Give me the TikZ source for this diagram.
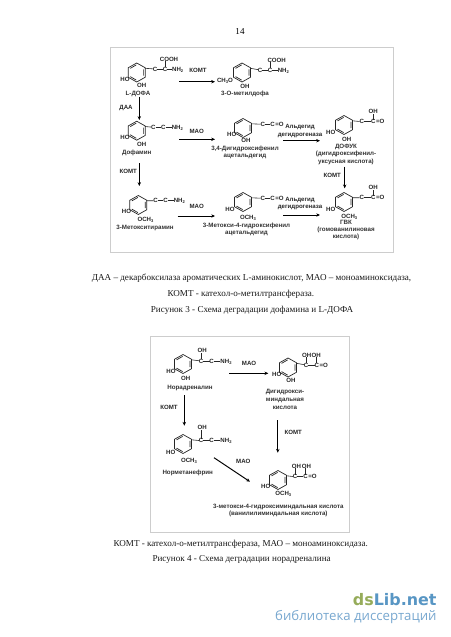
\documentclass[tikz,border=0pt]{standalone}
\usepackage{fontspec}
\setmainfont{Liberation Serif}
\newfontfamily\chemfont{Liberation Sans}
\newfontfamily\logofont{DejaVu Sans}
\newfontfamily\logosub{Open Sans}
\usetikzlibrary{arrows.meta}
\definecolor{framegray}{RGB}{205,205,205}
\definecolor{logogreen}{RGB}{150,172,90}
\definecolor{logoblue}{RGB}{88,150,196}
\definecolor{logolight}{RGB}{120,168,208}
\newcommand\lsub[1]{\raisebox{-0.9pt}{\fontsize{4.1}{4}\selectfont #1}}
\tikzset{
  x=1pt,y=-1pt,
  frame/.style={draw=framegray,line width=0.9pt},
  ringline/.style={line width=0.7pt,black!85},
  bond/.style={line width=0.6pt,black!85,shorten >=-0.3pt,shorten <=-0.3pt},
  flow/.style={line width=1pt,black,-{Stealth[length=3.8pt,width=3.4pt]}},
  atom/.style={font=\chemfont\fontsize{6.1}{6}\bfseries,inner sep=0.1pt,text height=4.2pt,text depth=0pt,text=black!85},
  lbl/.style={font=\chemfont\fontsize{6.2}{7}\bfseries,inner sep=0pt,text height=4.4pt,text depth=1.2pt,text=black!80},
  enz/.style={font=\chemfont\fontsize{6.1}{7}\bfseries,inner sep=0pt,text height=4.4pt,text depth=1.2pt,text=black!85},
  captext/.style={font=\fontsize{9.1}{10}\selectfont,inner sep=0pt,anchor=west,text=black!90},
}
\newcommand\ring[3]{%
  \begin{scope}[shift={(#2,#3)}]
    \coordinate (#1-t) at (0,-9.5);
    \coordinate (#1-ur) at (8.5,-4.2);
    \draw[ringline,line join=round] (0,-9.5)--(8.5,-4.75)--(8.5,4.75)--(0,9.5)--(-8.5,4.75)--(-8.5,-4.75)--cycle;
    \draw[ringline] (-6.5,-4.1)--(-0.4,-7.6) (6.9,-3.2)--(6.9,3.2) (-6.5,4.1)--(-0.4,7.6);
  \end{scope}}
\newcommand\at[4]{\node[atom] (#1) at (#2,#3) {#4};}
\begin{document}
\begin{tikzpicture}
\useasboundingbox (0,0) rectangle (450,637);
\fill[white] (0,0) rectangle (450,637);
\node[font=\fontsize{9.1}{10}\selectfont,inner sep=0pt] (pagenum) at (240,31) {14};

% ---------- Figure 3
\draw[frame] (110,47) rectangle (393.5,252);

\ring{dopa}{136.7}{72.5}
\at{dopaHO}{125}{79}{HO}\at{dopaOH}{141.7}{85.3}{OH}
\at{dopaC}{155}{69}{C}\at{dopaCb}{165}{69}{C}\at{dopaN}{177.7}{69}{NH\lsub{2}}\at{dopaCOOH}{169}{59.3}{COOH}
\draw[bond] (dopa-ur)--(dopaC); \draw[bond] (dopaC)--(dopaCb); \draw[bond] (dopaCb)--(dopaN);
\draw[bond] (dopaCb)--(dopaCb|-dopaCOOH.south);
\node[lbl] (dopaL) at (138,94.3) {L-ДОФА};

\ring{omd}{242}{72.5}
\at{omdCH}{225}{80}{CH\lsub{3}O}\at{omdOH}{245}{86}{OH}
\at{omdC}{260}{70}{C}\at{omdCb}{270}{70}{C}\at{omdN}{283.3}{70}{NH\lsub{2}}\at{omdCOOH}{276.7}{60}{COOH}
\draw[bond] (omd-ur)--(omdC); \draw[bond] (omdC)--(omdCb); \draw[bond] (omdCb)--(omdN);
\draw[bond] (omdCb)--(omdCb|-omdCOOH.south);
\node[lbl] (omdL) at (245,94) {3-О-метилдофа};

\ring{da}{136.7}{130.7}
\at{daHO}{125}{137.5}{HO}\at{daOH}{141.7}{144}{OH}
\at{daC}{153.3}{127.3}{C}\at{daCb}{163.3}{127.3}{C}\at{daN}{177.3}{127.3}{NH\lsub{2}}
\draw[bond] (da-ur)--(daC); \draw[bond] (daC)--(daCb); \draw[bond] (daCb)--(daN);
\node[lbl] (daL) at (136.7,153.3) {Дофамин};

\ring{dpa}{243}{128}
\at{dpaHO}{231.7}{134.3}{HO}\at{dpaOH}{246}{140}{OH}
\at{dpaC}{262.7}{124.3}{C}\at{dpaCb}{272.5}{124.3}{C}\node[atom,anchor=west] (dpaO) at (dpaCb.east) {=O};
\draw[bond] (dpa-ur)--(dpaC); \draw[bond] (dpaC)--(dpaCb);
\node[lbl] (dpaLa) at (245,149) {3,4-Дигидроксифенил};
\node[lbl] (dpaLb) at (245,156) {ацетальдегид};

\ring{dofuk}{344}{125}
\at{dofukHO}{330.7}{132.7}{HO}\at{dofukOH}{346.7}{139}{OH}
\at{dofukC}{361.7}{121.7}{C}\at{dofukCb}{373.3}{121.7}{C}\node[atom,anchor=west] (dofukO) at (dofukCb.east) {=O};\at{dofukOHb}{373.3}{111.7}{OH}
\draw[bond] (dofuk-ur)--(dofukC); \draw[bond] (dofukC)--(dofukCb); \draw[bond] (dofukCb)--(dofukOHb);
\node[lbl] (dofukLa) at (346,146.7) {ДОФУК};
\node[lbl] (dofukLb) at (346,154) {(дигидроксифенил-};
\node[lbl] (dofukLc) at (346,162) {уксусная кислота)};

\ring{mt}{138.3}{205}
\at{mtHO}{126.5}{211.5}{HO}\at{mtO}{145.5}{219}{OCH\lsub{3}}
\at{mtC}{155.7}{200.7}{C}\at{mtCb}{165.7}{200.7}{C}\at{mtN}{179.3}{200.7}{NH\lsub{2}}
\draw[bond] (mt-ur)--(mtC); \draw[bond] (mtC)--(mtCb); \draw[bond] (mtCb)--(mtN);
\node[lbl] (mtL) at (145,228.3) {3-Метокситирамин};

\ring{mpa}{243}{202}
\at{mpaHO}{230}{209.3}{HO}\at{mpaO}{248}{217.3}{OCH\lsub{3}}
\at{mpaC}{262.7}{198.3}{C}\at{mpaCb}{272.5}{198.3}{C}\node[atom,anchor=west] (mpaOb) at (mpaCb.east) {=O};
\draw[bond] (mpa-ur)--(mpaC); \draw[bond] (mpaC)--(mpaCb);
\node[lbl] (mpaLa) at (246.5,225.7) {3-Метокси-4-гидроксифенил};
\node[lbl] (mpaLb) at (246.5,232.7) {ацетальдегид};

\ring{gvk}{344}{202}
\at{gvkHO}{330.7}{209}{HO}\at{gvkO}{349.3}{216}{OCH\lsub{3}}
\at{gvkC}{361.7}{197.7}{C}\at{gvkCb}{373.3}{197.7}{C}\node[atom,anchor=west] (gvkOb) at (gvkCb.east) {=O};\at{gvkOH}{373.3}{187.7}{OH}
\draw[bond] (gvk-ur)--(gvkC); \draw[bond] (gvkC)--(gvkCb); \draw[bond] (gvkCb)--(gvkOH);
\node[lbl] (gvkLa) at (346,222.6) {ГВК};
\node[lbl] (gvkLb) at (346,230) {(гомованилиновая};
\node[lbl] (gvkLc) at (346,237.3) {кислота)};

% arrows figure 3
\coordinate (a1s) at (179,81.7);\coordinate (a1e) at (215,81.7);
\draw[flow] (a1s)--(a1e); \node[enz] (a1l) at (198,71) {КОМТ};
\coordinate (a2s) at (179,139.3);\coordinate (a2e) at (215,139.3);
\draw[flow] (a2s)--(a2e); \node[enz] (a2l) at (196.7,131.7) {МАО};
\coordinate (a3s) at (177.7,216);\coordinate (a3e) at (215,216);
\draw[flow] (a3s)--(a3e); \node[enz] (a3l) at (196.7,207.3) {МАО};
\coordinate (a4s) at (139.3,96.7);\coordinate (a4e) at (139.3,120);
\draw[flow] (a4s)--(a4e); \node[enz] (a4l) at (126,108.3) {ДАА};
\coordinate (a5s) at (139.3,163.3);\coordinate (a5e) at (139.3,186);
\draw[flow] (a5s)--(a5e); \node[enz] (a5l) at (128.3,172.3) {КОМТ};
\coordinate (a6s) at (283.3,140.7);\coordinate (a6e) at (320,140.7);
\draw[flow] (a6s)--(a6e); \node[enz] (a6la) at (300,127.3) {Альдегид}; \node[enz] (a6lb) at (300,134.7) {дегидрогеназа};
\coordinate (a7s) at (283.3,215);\coordinate (a7e) at (320,215);
\draw[flow] (a7s)--(a7e); \node[enz] (a7la) at (300,200) {Альдегид}; \node[enz] (a7lb) at (300,207.3) {дегидрогеназа};
\coordinate (a8s) at (344.7,166.7);\coordinate (a8e) at (344.7,188.3);
\draw[flow] (a8s)--(a8e); \node[enz] (a8l) at (332.3,175.7) {КОМТ};

\node[captext] (c1) at (91.7,278.3) {ДАА – декарбоксилаза ароматических L-аминокислот, МАО – моноаминоксидаза,};
\node[captext] (c2) at (167.3,294) {КОМТ - катехол-о-метилтрансфераза.};
\node[captext] (c3) at (150.7,310) {Рисунок 3 - Схема деградации дофамина и L-ДОФА};

% ---------- Figure 4
\draw[frame] (150,336) rectangle (349,532.7);

\ring{nor}{183}{364}
\at{norHO}{171}{371.7}{HO}\at{norOH}{185.7}{378.3}{OH}
\at{norC}{201}{361}{C}\at{norCb}{211.7}{361}{C}\at{norN}{226}{361}{NH\lsub{2}}\at{norOHb}{202.3}{350.7}{OH}
\draw[bond] (nor-ur)--(norC); \draw[bond] (norC)--(norCb); \draw[bond] (norCb)--(norN); \draw[bond] (norC)--(norC|-norOHb.south);
\node[lbl] (norL) at (190,388.3) {Норадреналин};

\ring{dhm}{288}{367.5}
\at{dhmHO}{276.7}{374}{HO}\at{dhmOH}{291}{380.7}{OH}
\at{dhmC}{306}{365}{C}\at{dhmCb}{316.7}{365}{C}\node[atom,anchor=west] (dhmO) at (dhmCb.east) {=O};
\at{dhmOa}{306.7}{355}{OH}\at{dhmOb}{316.3}{355}{OH}
\draw[bond] (dhm-ur)--(dhmC); \draw[bond] (dhmC)--(dhmCb); \draw[bond] (dhmC)--(dhmC|-dhmOa.south); \draw[bond] (dhmCb)--(dhmCb|-dhmOb.south);
\node[lbl] (dhmLa) at (285,392.3) {Дигидрокси-};
\node[lbl] (dhmLb) at (285,400) {миндальная};
\node[lbl] (dhmLc) at (285,407.7) {кислота};

\ring{nmt}{183}{444}
\at{nmtHO}{170.7}{452.3}{HO}\at{nmtO}{189}{460.3}{OCH\lsub{3}}
\at{nmtC}{201}{440.7}{C}\at{nmtCb}{211.7}{440.7}{C}\at{nmtN}{226}{440.7}{NH\lsub{2}}\at{nmtOH}{202.3}{427.7}{OH}
\draw[bond] (nmt-ur)--(nmtC); \draw[bond] (nmtC)--(nmtCb); \draw[bond] (nmtCb)--(nmtN); \draw[bond] (nmtC)--(nmtC|-nmtOH.south);
\node[lbl] (nmtL) at (187.7,472.7) {Норметанефрин};

\ring{vma}{278}{480}
\at{vmaHO}{265.7}{486.7}{HO}\at{vmaO}{283.3}{493.3}{OCH\lsub{3}}
\at{vmaC}{295}{476.7}{C}\at{vmaCb}{305.5}{476.7}{C}\node[atom,anchor=west] (vmaOb) at (vmaCb.east) {=O};
\at{vmaOa}{296.5}{466}{OH}\at{vmaOc}{306.5}{466}{OH}
\draw[bond] (vma-ur)--(vmaC); \draw[bond] (vmaC)--(vmaCb); \draw[bond] (vmaC)--(vmaC|-vmaOa.south); \draw[bond] (vmaCb)--(vmaCb|-vmaOc.south);
\node[lbl] (vmaLa) at (278.3,507) {3-метокси-4-гидроксиминдальная кислота};
\node[lbl] (vmaLb) at (278.3,514) {(ванилилиминдальная кислота)};

\coordinate (b1s) at (229.3,373.3);\coordinate (b1e) at (268.3,373.3);
\draw[flow] (b1s)--(b1e); \node[enz] (b1l) at (249,364) {МАО};
\coordinate (b2s) at (184.3,395);\coordinate (b2e) at (184.3,425.7);
\draw[flow] (b2s)--(b2e); \node[enz] (b2l) at (169,407.7) {КОМТ};
\coordinate (b3s) at (277.8,420);\coordinate (b3e) at (277.8,452.7);
\draw[flow] (b3s)--(b3e); \node[enz] (b3l) at (293.3,433.3) {КОМТ};
\coordinate (b4s) at (214,457.7);\coordinate (b4e) at (250,481.7);
\draw[flow] (b4s)--(b4e); \node[enz] (b4l) at (243.3,462.3) {МАО};

\node[captext] (c4) at (113.3,544) {КОМТ - катехол-о-метилтрансфераза, МАО – моноаминоксидаза.};
\node[captext] (c5) at (152.3,559.3) {Рисунок 4 - Схема деградации норадреналина};

% ---------- logo
\node[inner sep=0pt,anchor=east,font=\logofont\fontsize{15.9}{17}\bfseries] (logo) at (436.7,600) {\textcolor{logogreen}{ds}\textcolor{logoblue}{Lib.net}};
\node[inner sep=0pt,anchor=east,font=\logosub\fontsize{13.2}{14}\selectfont,text=logolight] (logosub) at (436.7,616.7) {библиотека диссертаций};
\end{tikzpicture}
\end{document}
